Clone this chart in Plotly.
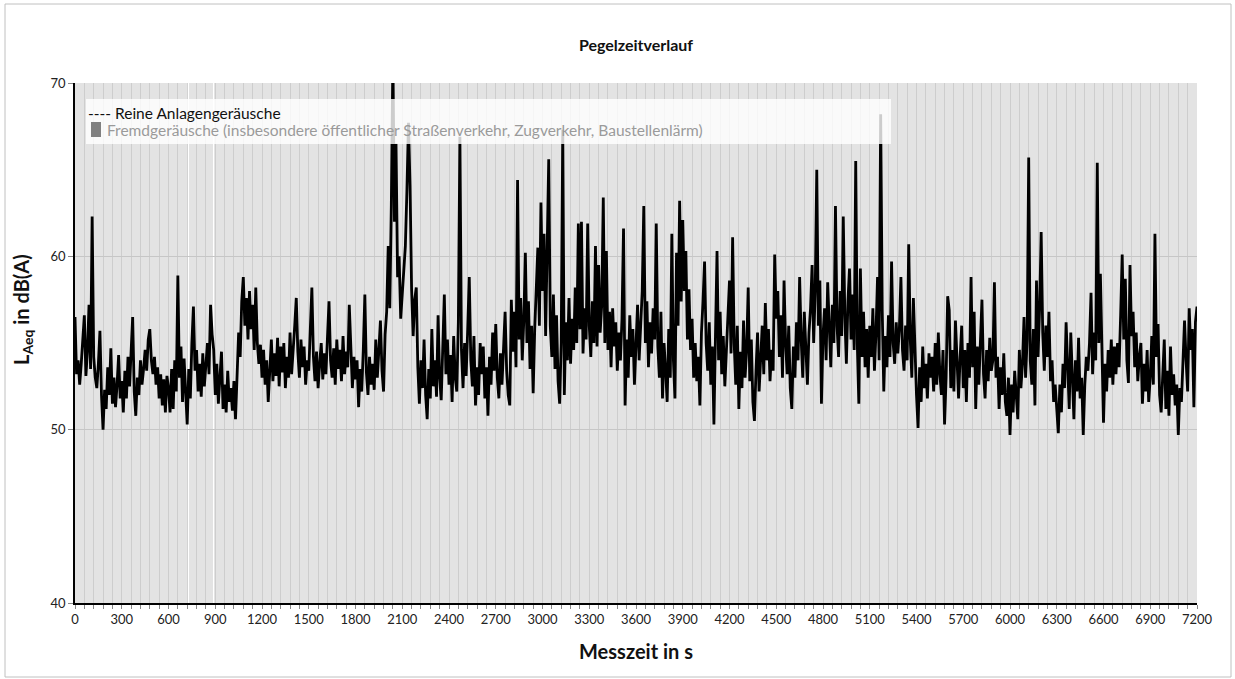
import plotly.graph_objects as go

# Messzeit in s (Abtastung alle 10 s)
messzeit = list(range(0, 7201, 10))

# L_Aeq in dB(A)
pegel = [
    56.5, 53.2, 54.0, 52.6, 53.8, 55.0, 56.6, 53.1, 54.6, 57.2, 53.5, 62.3, 54.2, 53.0, 52.4, 53.8, 55.7, 52.0, 50.0, 52.3, 51.2, 53.6, 52.0, 54.7, 51.5, 53.0, 51.3, 52.6, 54.3, 51.8,
    52.8, 51.0, 53.4, 51.8, 54.2, 52.5, 55.0, 56.5, 52.2, 50.8, 53.0, 52.0, 54.0, 52.6, 53.5, 54.6, 53.4, 55.2, 55.8, 54.0, 53.2, 54.2, 52.6, 53.6, 51.8, 53.2, 51.4, 52.9, 51.0, 53.1,
    52.4, 51.0, 53.5, 51.2, 54.0, 52.2, 58.9, 53.0, 54.8, 51.6, 54.1, 52.0, 50.3, 53.5, 51.8, 55.0, 57.1, 53.4, 54.6, 52.2, 53.8, 51.9, 54.4, 52.5, 53.7, 55.0, 53.2, 57.2, 55.5, 54.6,
    52.0, 53.8, 51.5, 52.8, 54.5, 51.2, 52.6, 51.0, 53.4, 51.6, 52.4, 51.1, 52.8, 50.6, 53.0, 55.6, 54.2, 57.4, 58.8, 56.0, 57.6, 55.2, 58.0, 55.8, 57.2, 54.6, 58.2, 55.0, 53.8, 54.9,
    53.0, 54.6, 52.6, 54.0, 51.6, 53.7, 55.2, 52.8, 54.4, 53.1, 55.3, 52.5, 54.8, 53.3, 55.0, 52.4, 54.2, 53.0, 55.6, 53.2, 54.4, 56.0, 57.6, 54.5, 53.0, 55.2, 53.6, 54.8, 52.6, 54.0,
    53.4, 55.5, 58.2, 54.2, 52.8, 54.5, 52.4, 53.8, 55.0, 52.9, 54.4, 53.2, 55.6, 57.4, 54.0, 53.0, 54.7, 52.6, 55.2, 53.5, 54.6, 52.8, 55.4, 53.2, 54.5, 53.6, 57.2, 54.4, 52.4, 54.2,
    52.9, 54.0, 51.3, 53.5, 52.2, 54.6, 57.8, 53.3, 52.0, 54.2, 52.6, 53.8, 52.3, 55.2, 53.0, 54.6, 56.3, 53.4, 52.2, 55.5, 56.8, 60.6, 57.0, 63.0, 71.5, 62.0, 66.5, 58.8, 60.0, 56.4,
    57.8, 58.6, 60.6, 63.8, 67.7, 64.1, 58.1, 55.4, 57.5, 58.2, 53.6, 51.5, 54.0, 52.4, 55.2, 52.0, 50.6, 53.5, 51.8, 55.8, 52.5, 54.0, 51.9, 56.6, 53.0, 51.7, 54.4, 57.8, 53.2, 55.2,
    52.6, 54.3, 51.6, 55.4, 53.0, 52.2, 56.2, 66.9, 54.6, 52.4, 55.0, 53.1, 55.8, 58.8, 54.0, 52.5, 55.4, 51.4, 53.6, 52.0, 55.0, 53.2, 54.8, 51.8, 53.6, 50.8, 54.2, 52.6, 55.6, 53.4,
    56.1, 53.0, 51.8, 54.4, 52.6, 55.2, 56.8, 53.4, 52.0, 51.4, 57.5, 54.5, 56.8, 53.6, 64.4, 55.2, 57.6, 54.0, 56.3, 60.2, 55.0, 57.4, 53.5, 56.0, 52.1, 55.8, 58.2, 60.5, 56.0, 63.1,
    58.0, 61.3, 55.4, 59.6, 65.6, 56.0, 54.2, 57.8, 53.5, 56.6, 52.8, 51.5, 55.0, 67.3, 52.0, 56.2, 54.0, 57.6, 53.8, 56.4, 54.6, 58.2, 55.0, 61.9, 55.8, 62.0, 54.4, 57.0, 55.2, 61.9,
    56.0, 54.2, 57.4, 55.0, 60.6, 54.8, 59.5, 55.6, 57.2, 63.4, 55.0, 60.3, 54.6, 56.8, 53.6, 57.0, 54.8, 56.2, 53.4, 55.6, 54.0, 56.4, 61.6, 51.4, 55.2, 53.0, 56.6, 54.2, 55.8, 52.6,
    55.4, 57.2, 54.0, 56.6, 58.0, 62.9, 55.0, 57.4, 53.6, 56.2, 54.4, 57.0, 55.2, 61.9, 54.8, 53.0, 56.8, 51.8, 55.0, 53.4, 51.6, 55.8, 53.0, 61.3, 54.0, 51.8, 60.2, 56.0, 63.2, 57.4,
    62.1, 58.0, 60.3, 55.2, 58.1, 54.6, 56.4, 53.0, 55.0, 52.8, 54.2, 51.4, 55.6, 57.4, 59.7, 55.0, 53.4, 56.2, 52.6, 54.8, 50.3, 55.4, 60.3, 54.0, 56.8, 53.2, 55.4, 52.5, 54.6, 56.0,
    58.6, 54.4, 61.1, 55.0, 52.6, 56.0, 51.2, 54.5, 52.4, 56.3, 53.0, 54.6, 58.2, 52.8, 55.2, 51.6, 50.5, 53.4, 55.6, 52.2, 54.0, 56.0, 53.2, 57.3, 54.0, 55.8, 52.8, 54.6, 53.4, 60.1,
    56.4, 58.0, 54.2, 56.6, 53.0, 58.6, 55.0, 53.2, 56.0, 52.4, 51.2, 54.8, 53.0, 56.2, 54.0, 58.8, 55.2, 53.0, 56.8, 54.4, 52.6, 55.6, 57.0, 59.5, 55.0, 58.0, 65.0, 56.0, 58.6, 51.5,
    55.4, 57.0, 54.0, 58.5, 55.6, 53.6, 57.2, 55.0, 62.9, 56.0, 54.2, 58.0, 55.4, 62.3, 56.6, 53.8, 57.4, 59.3, 55.2, 57.8, 54.6, 65.5, 55.0, 51.5, 59.3, 54.2, 56.8, 53.6, 55.8, 53.0,
    56.0, 54.2, 57.0, 53.4, 55.6, 58.8, 54.0, 68.2, 56.9, 52.2, 55.4, 53.6, 56.6, 54.2, 59.7, 55.0, 53.8, 56.2, 54.4, 55.8, 58.8, 54.6, 53.4, 56.0, 54.0, 60.7, 55.2, 53.0, 57.6, 54.4,
    52.0, 50.1, 53.6, 51.6, 54.8, 52.4, 53.8, 51.8, 54.4, 53.0, 54.2, 52.2, 55.0, 52.6, 55.6, 53.2, 52.0, 54.6, 50.3, 53.0, 57.7, 56.9, 52.4, 54.6, 52.2, 56.3, 53.4, 51.8, 54.2, 56.0,
    52.4, 54.6, 51.6, 55.0, 53.0, 58.8, 53.6, 56.8, 51.2, 54.8, 52.6, 55.4, 57.5, 53.2, 51.8, 54.6, 52.8, 55.3, 53.4, 54.0, 58.5, 53.0, 54.2, 51.2, 53.6, 52.0, 54.4, 51.6, 50.8, 53.0,
    49.7, 52.6, 51.0, 53.4, 51.8, 50.6, 54.6, 52.4, 53.8, 56.5, 53.0, 55.2, 65.7, 54.0, 52.6, 55.8, 51.4, 58.6, 54.2, 57.0, 61.4, 55.6, 53.4, 56.0, 54.2, 56.8, 52.8, 54.0, 51.6, 52.6,
    51.2, 49.8, 52.6, 51.0, 53.8, 52.4, 56.2, 53.0, 51.2, 55.6, 52.8, 50.6, 54.0, 52.2, 55.3, 51.8, 53.0, 49.7, 52.6, 54.2, 53.4, 55.0, 57.9, 53.2, 55.6, 54.0, 65.4, 55.0, 59.0, 53.6,
    50.4, 53.8, 52.2, 54.6, 53.0, 55.2, 52.6, 54.8, 53.2, 55.0, 53.6, 56.6, 60.1, 55.2, 58.7, 54.0, 52.7, 59.5, 55.4, 56.8, 53.6, 55.6, 52.8, 54.2, 55.0, 51.5, 53.8, 52.2, 54.6, 51.6,
    53.0, 55.4, 52.6, 61.3, 54.2, 56.1, 52.0, 51.0, 53.6, 55.2, 51.2, 53.4, 50.8, 54.8, 52.0, 53.2, 51.4, 52.6, 49.7, 52.4, 51.6, 53.8, 56.3, 54.0, 52.2, 57.0, 54.6, 55.8, 51.3, 56.2,
    57.1,
]

# Zeitabschnitte mit Fremdgeräuschen (s)
fremd_start = [0, 732, 894]
fremd_ende = [718, 887, 7200]
fremd_pegel = [70, 70, 70]

x_ticks = list(range(0, 7201, 300))
y_ticks = [40, 50, 60, 70]

FONT = "Lato"

# figure placed at the page origin (body margin removed in the page)
OFF = 0
FIG_W, FIG_H = 1235 - OFF, 679 - OFF
PL, PR, PT, PB = 75, 1197, 83, 603   # plot area in screen pixels

fig = go.Figure()

fig.add_trace(go.Bar(
    x=[(s + e) / 2 for s, e in zip(fremd_start, fremd_ende)],
    y=[p - 40 for p in fremd_pegel],
    base=40,
    width=[e - s for s, e in zip(fremd_start, fremd_ende)],
    marker=dict(color="rgba(200,200,200,0.5)", line=dict(width=0)),
    name="Fremdgeräusche",
    showlegend=False,
    hoverinfo="skip",
))

fig.add_trace(go.Scatter(
    x=messzeit, y=pegel, mode="lines",
    line=dict(color="black", width=2.8),
    name="Reine Anlagengeräusche",
    showlegend=False,
))


def px2x(px):
    return (px - PL) / float(PR - PL)


def py2y(py):
    return (PB - py) / float(PB - PT)


# Legend box (semi-transparent, drawn above data)
fig.add_shape(type="rect", xref="paper", yref="paper",
              x0=px2x(86), x1=px2x(891), y0=py2y(144), y1=py2y(99),
              fillcolor="rgba(255,255,255,0.8)", line=dict(width=0), layer="above")
fig.add_shape(type="rect", xref="paper", yref="paper",
              x0=px2x(91), x1=px2x(101), y0=py2y(137), y1=py2y(122),
              fillcolor="#808080", line=dict(width=0), layer="above")
fig.add_annotation(xref="paper", yref="paper", x=px2x(87), y=py2y(113),
                   xanchor="left", yanchor="middle", showarrow=False, borderpad=0,
                   text="---- Reine Anlagengeräusche",
                   font=dict(family=FONT, size=15.5, color="#111111"))
fig.add_annotation(xref="paper", yref="paper", x=px2x(106), y=py2y(129.5),
                   xanchor="left", yanchor="middle", showarrow=False, borderpad=0,
                   text="Fremdgeräusche (insbesondere öffentlicher Straßenverkehr, Zugverkehr, Baustellenlärm)",
                   font=dict(family=FONT, size=15.5, color="#9a9a9a"))

# y-axis title
fig.add_annotation(xref="paper", yref="paper", x=px2x(22), y=py2y(310),
                   xanchor="center", yanchor="middle", showarrow=False, textangle=-90,
                   text="<b>L<sub>Aeq</sub> in dB(A)</b>",
                   font=dict(family=FONT, size=20, color="#111111"))

# outer border
fig.add_shape(type="rect", xref="paper", yref="paper",
              x0=px2x(5), x1=px2x(1231), y0=py2y(677), y1=py2y(4),
              line=dict(color="#c0c0c0", width=1), fillcolor="rgba(0,0,0,0)", layer="below")

fig.update_layout(
    width=FIG_W, height=FIG_H,
    margin=dict(l=PL - OFF, r=FIG_W - (PR - OFF), t=PT - OFF, b=FIG_H - (PB - OFF)),
    paper_bgcolor="white", plot_bgcolor="white",
    font=dict(family=FONT, size=13, color="#222222"),
    title=dict(text="<b>Pegelzeitverlauf</b>", x=(636 - OFF) / FIG_W,
               xanchor="center", y=1 - (45 - OFF) / FIG_H, yanchor="middle",
               font=dict(family=FONT, size=16, color="#111111")),
    bargap=0,
    showlegend=False,
)

fig.update_xaxes(
    range=[0, 7200], tickmode="array", tickvals=x_ticks,
    ticks="outside", ticklen=4, tickcolor="#888888",
    showgrid=True, gridcolor="#d2d2d2", gridwidth=1,
    minor=dict(dtick=60, tick0=0, ticks="outside", ticklen=4, tickcolor="#888888",
               showgrid=True, gridcolor="#d2d2d2", gridwidth=1),
    showline=True, linecolor="black", linewidth=1.5,
    zeroline=False, automargin=False,
    tickfont=dict(family=FONT, size=13, color="#222222"),
    title=dict(text="<b>Messzeit in s</b>", standoff=19,
               font=dict(family=FONT, size=20, color="#111111")),
)
fig.update_yaxes(
    range=[40, 70], tickmode="array", tickvals=y_ticks,
    ticks="outside", ticklen=5, tickcolor="#888888",
    showgrid=True, gridcolor="#c4c4c4", gridwidth=1,
    showline=True, linecolor="black", linewidth=1.5,
    zeroline=False, automargin=False,
    tickfont=dict(family=FONT, size=13, color="#222222"),
)

fig.write_html(
    "out.html",
    config={"displayModeBar": False},
    post_script="document.body.style.margin='0';document.body.style.overflow='hidden';",
)
